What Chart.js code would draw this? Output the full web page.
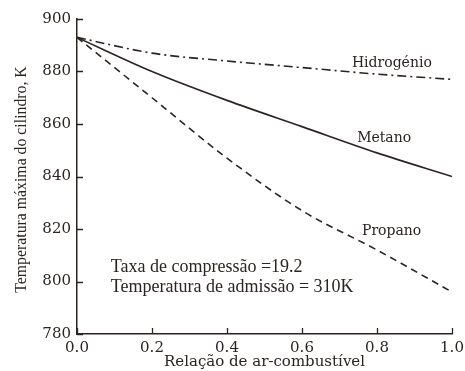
<!DOCTYPE html>
<html>
<head>
<meta charset="utf-8">
<script src="https://cdn.jsdelivr.net/npm/chart.js@4"></script>
<style>
  html, body { margin: 0; padding: 0; background: #fff; }
  #wrap { width: 465px; height: 371px; }
</style>
</head>
<body>
<div id="wrap"><canvas id="chart" width="465" height="371"></canvas></div>
<script>
// relação ar-combustível
const razoes = [0.0, 0.2, 0.4, 0.6, 0.8, 1.0];
// temperatura máxima do cilindro (K)
const hidrogenio = [893, 887, 884, 881.5, 879, 877];
const metano = [893, 880, 869, 859, 849, 840];
const propano = [893, 870, 847, 827, 812, 796];
// marcas dos eixos
const ticksX = [0.0, 0.2, 0.4, 0.6, 0.8, 1.0];
const ticksY = [780, 800, 820, 840, 860, 880, 900];

const COR = '#2b2421';
const SERIF_LARGA = '"DejaVu Serif", serif';
const SERIF = '"Liberation Serif", "DejaVu Serif", serif';
const TITULO_Y = 'Temperatura máxima do cilindro, K';

function pontos(ys) {
  return razoes.map((x, i) => ({ x: x, y: ys[i] }));
}

// rótulos das curvas e notas, posicionados em coordenadas dos eixos
const rotulos = [
  { texto: 'Hidrogénio', x: 0.733, y: 883.2, fonte: '14px ' + SERIF_LARGA },
  { texto: 'Metano', x: 0.747, y: 854.7, fonte: '14px ' + SERIF_LARGA },
  { texto: 'Propano', x: 0.760, y: 819.0, fonte: '14px ' + SERIF_LARGA },
  { texto: 'Taxa de compressão =19.2', x: 0.090, y: 805.3, fonte: '18px ' + SERIF },
  { texto: 'Temperatura de admissão = 310K', x: 0.090, y: 797.8, fonte: '18px ' + SERIF }
];

// traços dos eixos para dentro, título vertical e textos
const extras = {
  id: 'extras',
  afterDraw(chart) {
    const ctx = chart.ctx;
    const sx = chart.scales.x, sy = chart.scales.y;
    const area = chart.chartArea;
    ctx.save();
    ctx.strokeStyle = COR;
    ctx.lineWidth = 1.3;
    ctx.beginPath();
    ticksY.forEach(v => {
      const py = Math.round(sy.getPixelForValue(v)) + 0.5;
      ctx.moveTo(area.left, py);
      ctx.lineTo(area.left + 6, py);
    });
    ticksX.forEach(v => {
      const px = Math.round(sx.getPixelForValue(v)) + 0.5;
      ctx.moveTo(px, area.bottom);
      ctx.lineTo(px, area.bottom - 6);
    });
    ctx.stroke();

    ctx.fillStyle = COR;
    ctx.textBaseline = 'middle';
    ctx.textAlign = 'left';
    rotulos.forEach(r => {
      ctx.font = r.fonte;
      ctx.fillText(r.texto, sx.getPixelForValue(r.x), sy.getPixelForValue(r.y));
    });

    // título do eixo y
    ctx.translate(21.5, area.top + area.height / 2 + 3);
    ctx.rotate(-Math.PI / 2);
    ctx.textAlign = 'center';
    ctx.font = '15.8px ' + SERIF;
    ctx.fillText(TITULO_Y, 0, 0);
    ctx.restore();
  }
};

const linhaBase = {
  borderColor: COR,
  borderWidth: 1.6,
  pointRadius: 0,
  fill: false,
  cubicInterpolationMode: 'monotone'
};

new Chart(document.getElementById('chart'), {
  type: 'line',
  data: {
    datasets: [
      Object.assign({ label: 'Hidrogénio', data: pontos(hidrogenio), borderDash: [9, 4, 2, 4] }, linhaBase),
      Object.assign({ label: 'Metano', data: pontos(metano) }, linhaBase),
      Object.assign({ label: 'Propano', data: pontos(propano), borderDash: [7, 5] }, linhaBase)
    ]
  },
  options: {
    responsive: false,
    animation: false,
    layout: { padding: { left: 0, top: 19, right: 13, bottom: 0 } },
    plugins: {
      legend: { display: false },
      tooltip: { enabled: false }
    },
    scales: {
      x: {
        type: 'linear',
        min: 0,
        max: 1,
        afterBuildTicks: s => { s.ticks = ticksX.map(v => ({ value: v })); },
        afterFit: s => {
          s.height = 37;
          s.paddingLeft = 0;
          s.paddingRight = 0;
        },
        grid: { drawOnChartArea: false, drawTicks: false },
        border: { color: COR, width: 1.5 },
        ticks: {
          padding: 5,
          color: COR,
          font: { family: SERIF_LARGA, size: 15 },
          callback: v => v.toFixed(1)
        },
        title: {
          display: true,
          text: 'Relação de ar-combustível',
          color: COR,
          font: { family: SERIF_LARGA, size: 15 },
          padding: { top: -5, bottom: 0 }
        }
      },
      y: {
        min: 780,
        max: 900,
        afterBuildTicks: s => { s.ticks = ticksY.map(v => ({ value: v })); },
        afterFit: s => { s.width = 77; },
        grid: { drawOnChartArea: false, drawTicks: false },
        border: { color: COR, width: 1.5 },
        ticks: {
          padding: 6,
          color: COR,
          font: { family: SERIF_LARGA, size: 15 }
        }
      }
    }
  },
  plugins: [extras]
});
</script>
</body>
</html>
